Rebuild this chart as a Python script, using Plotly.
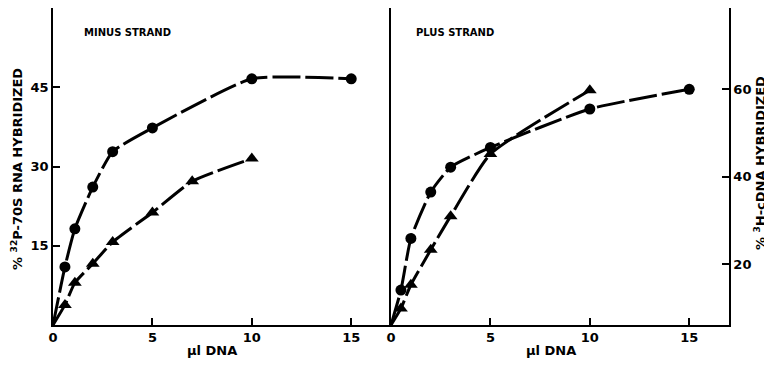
import plotly.graph_objects as go

# ---- data ----
minus_circ_x = [0, 0.6, 1.1, 2, 3, 5, 10, 15]
minus_circ_y = [0, 11.0, 18.2, 26.1, 32.8, 37.3, 46.6, 46.6]
minus_tri_x = [0, 0.6, 1.1, 2, 3, 5, 7, 10]
minus_tri_y = [0, 3.8, 8.0, 11.6, 15.7, 21.3, 27.2, 31.5]

plus_circ_x = [0, 0.5, 1, 2, 3, 5, 10, 15]
plus_circ_y = [6.1, 14.1, 25.9, 36.5, 42.2, 46.7, 55.5, 60.0]
plus_tri_x = [0, 0.5, 1, 2, 3, 5, 10]
plus_tri_y = [6.1, 9.9, 15.3, 23.3, 31.0, 45.2, 59.8]

x_ticks = [0, 5, 10, 15]
left_y_ticks = [15, 30, 45]
right_y_ticks = [20, 40, 60]

FONT = "DejaVu Sans"
BLACK = "#000000"
DASH = "28px,5px"

fig = go.Figure()


def add_series(x, y, sym, size, xa, ya):
    fig.add_trace(go.Scatter(
        x=x, y=y, mode="lines",
        line=dict(color=BLACK, width=3, dash=DASH, shape="spline", smoothing=0.5),
        xaxis=xa, yaxis=ya, showlegend=False, hoverinfo="skip"))
    fig.add_trace(go.Scatter(
        x=x[1:], y=y[1:], mode="markers",
        marker=dict(symbol=sym, size=size, color=BLACK),
        xaxis=xa, yaxis=ya, showlegend=False, hoverinfo="skip"))


add_series(minus_circ_x, minus_circ_y, "circle", 11, "x", "y")
add_series(minus_tri_x, minus_tri_y, "triangle-up", 12, "x", "y")
add_series(plus_circ_x, plus_circ_y, "circle", 11, "x2", "y2")
add_series(plus_tri_x, plus_tri_y, "triangle-up", 12, "x2", "y2")

tickfont = dict(family=FONT, size=13, color=BLACK, weight="bold")
common_x = dict(range=[0, 17], tickvals=x_ticks, ticks="inside", ticklen=7, tickwidth=1.5,
                tickcolor=BLACK, showline=True, linecolor=BLACK, linewidth=1.5, mirror=True,
                showgrid=False, zeroline=False, tickfont=tickfont, automargin=False)

# page body has an 8px margin, so the figure is offset by 8px; margins compensate
fig.update_layout(
    template="none",
    width=764, height=360,
    margin=dict(l=45, r=43, t=0, b=43, autoexpand=False),
    paper_bgcolor="white", plot_bgcolor="white",
    xaxis=dict(domain=[0, 0.5], anchor="y", **common_x),
    xaxis2=dict(domain=[0.5, 1], anchor="y2", **common_x),
    yaxis=dict(range=[0, 60], tickvals=left_y_ticks, ticks="inside", ticklen=7, tickwidth=1.5,
               tickcolor=BLACK, showline=True, linecolor=BLACK, linewidth=1.5, mirror=False,
               showgrid=False, zeroline=False, tickfont=tickfont, anchor="x", automargin=False),
    yaxis2=dict(range=[6.1, 78.6], tickvals=right_y_ticks, ticks="inside", ticklen=7, tickwidth=1.5,
                tickcolor=BLACK, showline=True, linecolor=BLACK, linewidth=1.5, mirror=True,
                showgrid=False, zeroline=False, tickfont=tickfont, anchor="x2", side="right",
                automargin=False),
)

title_font = dict(family=FONT, size=13, color=BLACK)
ann = [
    dict(text="<b>MINUS STRAND</b>", x=0.1095, y=0.924, font=dict(family=FONT, size=10, color=BLACK)),
    dict(text="<b>PLUS STRAND</b>", x=0.595, y=0.924, font=dict(family=FONT, size=10, color=BLACK)),
    dict(text="<b>µl DNA</b>", x=0.235, y=-0.082, font=title_font),
    dict(text="<b>µl DNA</b>", x=0.737, y=-0.082, font=title_font),
    dict(text="<b>% <sup>32</sup>P-70S RNA HYBRIDIZED</b>", x=-0.0533, y=0.492, textangle=-90, font=title_font),
    dict(text="<b>% <sup>3</sup>H-cDNA HYBRIDIZED</b>", x=1.0459, y=0.511, textangle=-90, font=title_font),
]
for a in ann:
    fig.add_annotation(xref="paper", yref="paper", showarrow=False,
                       xanchor="center", yanchor="middle", **a)

fig.write_html("out.html")
